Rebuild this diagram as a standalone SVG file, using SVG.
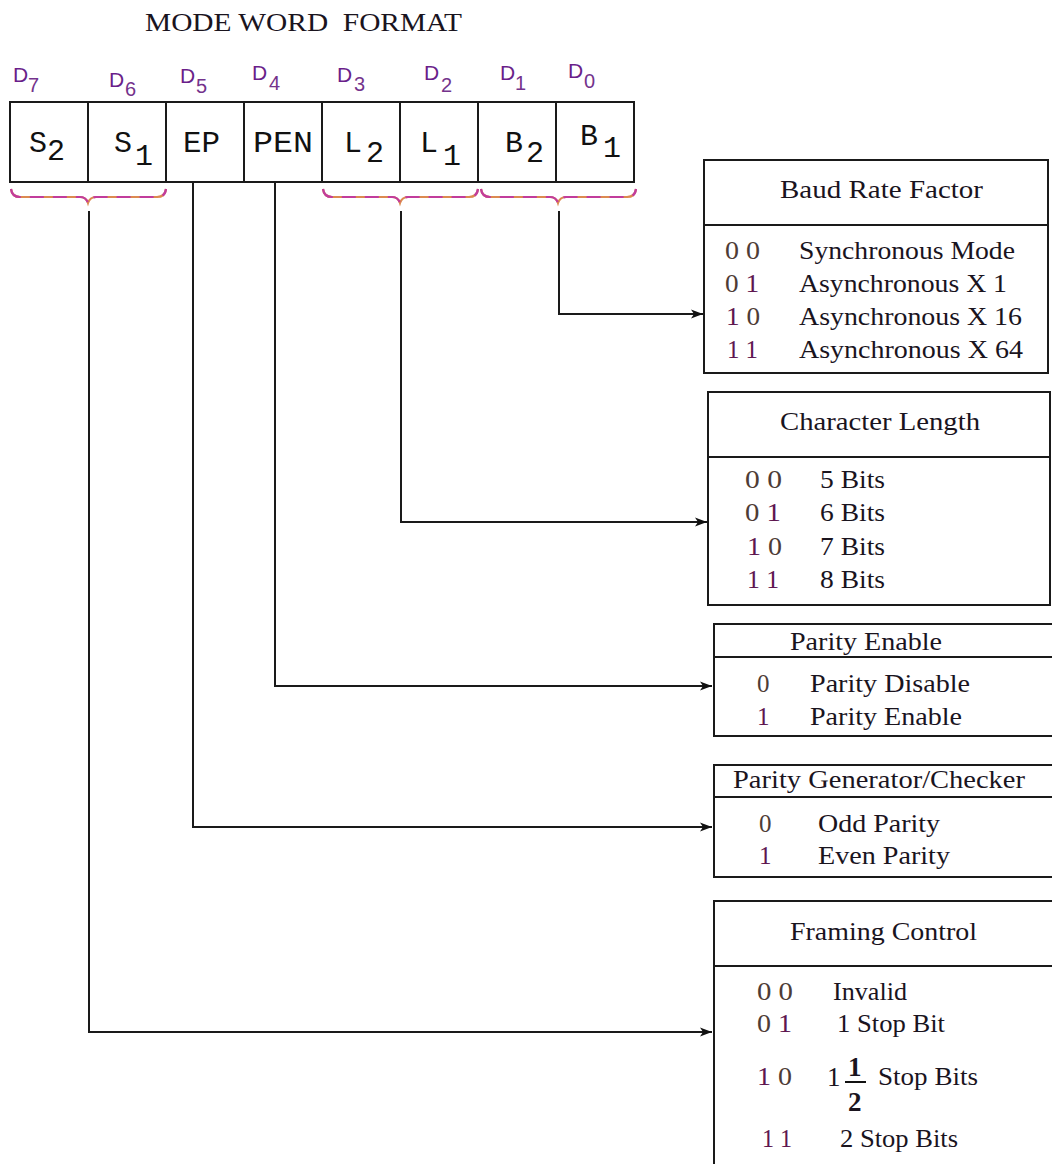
<svg xmlns="http://www.w3.org/2000/svg" width="1052" height="1164" viewBox="0 0 1052 1164">
<defs>
<style>
.ser{font-family:"Liberation Serif","Times New Roman",serif;font-size:25px;fill:#1a141e}
.mono{font-family:"Liberation Mono","Courier New",monospace;font-size:30px;fill:#111}
.bit{font-family:"Liberation Sans",Arial,sans-serif;font-size:21px;fill:#6a1e8a}
.sub{font-family:"Liberation Sans",Arial,sans-serif;font-size:20px;fill:#74338c}
.z{fill:#4e3c36}
.o{fill:#5e1650}
.box{fill:none;stroke:#1a1a1a;stroke-width:2}
.conn{fill:none;stroke:#1a1a1a;stroke-width:2}
.brA{fill:none;stroke:#dc8a50;stroke-width:2.2}
.brB{fill:none;stroke:#c23c9c;stroke-width:2.2;stroke-dasharray:14 9}
</style>
<marker id="arr" markerUnits="userSpaceOnUse" markerWidth="14" markerHeight="10" refX="12" refY="5" orient="auto">
<path d="M0,0.5 L12,5 L0,9.5 L3,5 Z" fill="#111"/>
</marker>
</defs>
<rect width="1052" height="1164" fill="#fff"/>

<text id="title" class="ser" x="145" y="31" textLength="317" lengthAdjust="spacingAndGlyphs" xml:space="preserve">MODE WORD  FORMAT</text>

<g id="bit-labels">
<text class="bit" x="13" y="82">D</text><text class="sub" x="28" y="92">7</text>
<text class="bit" x="109" y="87">D</text><text class="sub" x="125" y="96">6</text>
<text class="bit" x="180" y="83">D</text><text class="sub" x="196" y="93">5</text>
<text class="bit" x="252" y="80">D</text><text class="sub" x="269" y="90">4</text>
<text class="bit" x="337" y="82">D</text><text class="sub" x="354" y="91">3</text>
<text class="bit" x="424" y="80">D</text><text class="sub" x="441" y="92">2</text>
<text class="bit" x="500" y="80">D</text><text class="sub" x="515" y="90">1</text>
<text class="bit" x="568" y="78">D</text><text class="sub" x="584" y="88">0</text>
</g>

<g id="register">
<rect class="box" x="10" y="102" width="624" height="80"/>
<path class="box" d="M88,102V182M166,102V182M244,102V182M322,102V182M400,102V182M478,102V182M556,102V182"/>
<text class="mono" x="29" y="152">S</text><text class="mono" x="47" y="160">2</text>
<text class="mono" x="114" y="152">S</text><text class="mono" x="135" y="165">1</text>
<text class="mono" x="183" y="152" textLength="37" lengthAdjust="spacingAndGlyphs">EP</text>
<text class="mono" x="253" y="152" textLength="60" lengthAdjust="spacingAndGlyphs">PEN</text>
<text class="mono" x="344" y="152">L</text><text class="mono" x="366" y="162">2</text>
<text class="mono" x="420" y="152">L</text><text class="mono" x="443" y="165">1</text>
<text class="mono" x="505" y="152">B</text><text class="mono" x="526" y="162">2</text>
<text class="mono" x="580" y="145">B</text><text class="mono" x="603" y="157">1</text>
</g>

<g id="braces">
<path class="brA" d="M11,189 Q12,197 20,197 H80 Q86,197 88,203 Q90,197 96,197 H157 Q165,197 166,189"/>
<path class="brB" d="M11,189 Q12,197 20,197 H80 Q86,197 88,203 Q90,197 96,197 H157 Q165,197 166,189"/>
<path class="brA" d="M323,189 Q324,197 332,197 H392 Q398,197 400,203 Q402,197 408,197 H469 Q477,197 478,189"/>
<path class="brB" d="M323,189 Q324,197 332,197 H392 Q398,197 400,203 Q402,197 408,197 H469 Q477,197 478,189"/>
<path class="brA" d="M481,189 Q482,197 490,197 H550 Q556,197 558,203 Q560,197 566,197 H627 Q635,197 636,189"/>
<path class="brB" d="M481,189 Q482,197 490,197 H550 Q556,197 558,203 Q560,197 566,197 H627 Q635,197 636,189"/>
</g>

<g id="connectors">
<path class="conn" d="M559,211 V314 H703" marker-end="url(#arr)"/>
<path class="conn" d="M401,211 V522 H707" marker-end="url(#arr)"/>
<path class="conn" d="M275,182 V686 H712" marker-end="url(#arr)"/>
<path class="conn" d="M193,182 V827 H712" marker-end="url(#arr)"/>
<path class="conn" d="M89,211 V1032 H712" marker-end="url(#arr)"/>
</g>

<g id="baud-rate-factor">
<rect class="box" x="704" y="160" width="344" height="213"/>
<path class="box" d="M704,225H1048"/>
<text class="ser" x="780" y="198" textLength="203" lengthAdjust="spacingAndGlyphs">Baud Rate Factor</text>
<text class="ser" x="725" y="259" textLength="35" lengthAdjust="spacingAndGlyphs"><tspan class="z">0</tspan> <tspan class="z">0</tspan></text>
<text class="ser" x="725" y="292" textLength="34" lengthAdjust="spacingAndGlyphs"><tspan class="z">0</tspan> <tspan class="o">1</tspan></text>
<text class="ser" x="726" y="325" textLength="34" lengthAdjust="spacingAndGlyphs"><tspan class="o">1</tspan> <tspan class="z">0</tspan></text>
<text class="ser" x="727" y="358" textLength="31" lengthAdjust="spacingAndGlyphs"><tspan class="o">1</tspan> <tspan class="o">1</tspan></text>
<text class="ser" x="799" y="259" textLength="216" lengthAdjust="spacingAndGlyphs">Synchronous Mode</text>
<text class="ser" x="799" y="292" textLength="208" lengthAdjust="spacingAndGlyphs">Asynchronous X 1</text>
<text class="ser" x="799" y="325" textLength="223" lengthAdjust="spacingAndGlyphs">Asynchronous X 16</text>
<text class="ser" x="799" y="358" textLength="224" lengthAdjust="spacingAndGlyphs">Asynchronous X 64</text>
</g>

<g id="character-length">
<rect class="box" x="708" y="392" width="342" height="213"/>
<path class="box" d="M708,457H1050"/>
<text class="ser" x="780" y="430" textLength="200" lengthAdjust="spacingAndGlyphs">Character Length</text>
<text class="ser" x="745" y="488" textLength="37" lengthAdjust="spacingAndGlyphs"><tspan class="z">0</tspan> <tspan class="z">0</tspan></text>
<text class="ser" x="745" y="521" textLength="36" lengthAdjust="spacingAndGlyphs"><tspan class="z">0</tspan> <tspan class="o">1</tspan></text>
<text class="ser" x="747" y="555" textLength="35" lengthAdjust="spacingAndGlyphs"><tspan class="o">1</tspan> <tspan class="z">0</tspan></text>
<text class="ser" x="747" y="588" textLength="32" lengthAdjust="spacingAndGlyphs"><tspan class="o">1</tspan> <tspan class="o">1</tspan></text>
<text class="ser" x="820" y="488" textLength="65" lengthAdjust="spacingAndGlyphs">5 Bits</text>
<text class="ser" x="820" y="521" textLength="65" lengthAdjust="spacingAndGlyphs">6 Bits</text>
<text class="ser" x="820" y="555" textLength="65" lengthAdjust="spacingAndGlyphs">7 Bits</text>
<text class="ser" x="820" y="588" textLength="65" lengthAdjust="spacingAndGlyphs">8 Bits</text>
</g>

<g id="parity-enable">
<path class="box" d="M1054,624H714V736H1054M714,657H1054"/>
<text class="ser" x="790" y="650" textLength="152" lengthAdjust="spacingAndGlyphs">Parity Enable</text>
<text class="ser z" x="757" y="692">0</text>
<text class="ser o" x="757" y="725">1</text>
<text class="ser" x="810" y="692" textLength="160" lengthAdjust="spacingAndGlyphs">Parity Disable</text>
<text class="ser" x="810" y="725" textLength="152" lengthAdjust="spacingAndGlyphs">Parity Enable</text>
</g>

<g id="parity-generator-checker">
<path class="box" d="M1054,765H714V877H1054M714,797H1054"/>
<text class="ser" x="733" y="788" textLength="292" lengthAdjust="spacingAndGlyphs">Parity Generator/Checker</text>
<text class="ser z" x="759" y="832">0</text>
<text class="ser o" x="759" y="864">1</text>
<text class="ser" x="818" y="832" textLength="122" lengthAdjust="spacingAndGlyphs">Odd Parity</text>
<text class="ser" x="818" y="864" textLength="132" lengthAdjust="spacingAndGlyphs">Even Parity</text>
</g>

<g id="framing-control">
<path class="box" d="M1054,901H714V1166M714,966H1054"/>
<text class="ser" x="790" y="940" textLength="187" lengthAdjust="spacingAndGlyphs">Framing Control</text>
<text class="ser" x="757" y="1000" textLength="36" lengthAdjust="spacingAndGlyphs"><tspan class="z">0</tspan> <tspan class="z">0</tspan></text>
<text class="ser" x="757" y="1032" textLength="35" lengthAdjust="spacingAndGlyphs"><tspan class="z">0</tspan> <tspan class="o">1</tspan></text>
<text class="ser" x="757" y="1085" textLength="35" lengthAdjust="spacingAndGlyphs"><tspan class="o">1</tspan> <tspan class="z">0</tspan></text>
<text class="ser" x="762" y="1147" textLength="30" lengthAdjust="spacingAndGlyphs"><tspan class="o">1</tspan> <tspan class="o">1</tspan></text>
<text class="ser" x="833" y="1000" textLength="74" lengthAdjust="spacingAndGlyphs">Invalid</text>
<text class="ser" x="837" y="1032" textLength="108" lengthAdjust="spacingAndGlyphs">1 Stop Bit</text>
<text class="ser" x="827" y="1086" style="font-size:27px">1</text>
<text class="ser" x="848" y="1076" style="font-size:27px;font-weight:bold">1</text>
<path d="M845,1082H866" stroke="#111" stroke-width="2"/>
<text class="ser" x="848" y="1111" style="font-size:27px;font-weight:bold">2</text>
<text class="ser" x="878" y="1085" textLength="100" lengthAdjust="spacingAndGlyphs">Stop Bits</text>
<text class="ser" x="840" y="1147" textLength="118" lengthAdjust="spacingAndGlyphs">2 Stop Bits</text>
</g>
</svg>
